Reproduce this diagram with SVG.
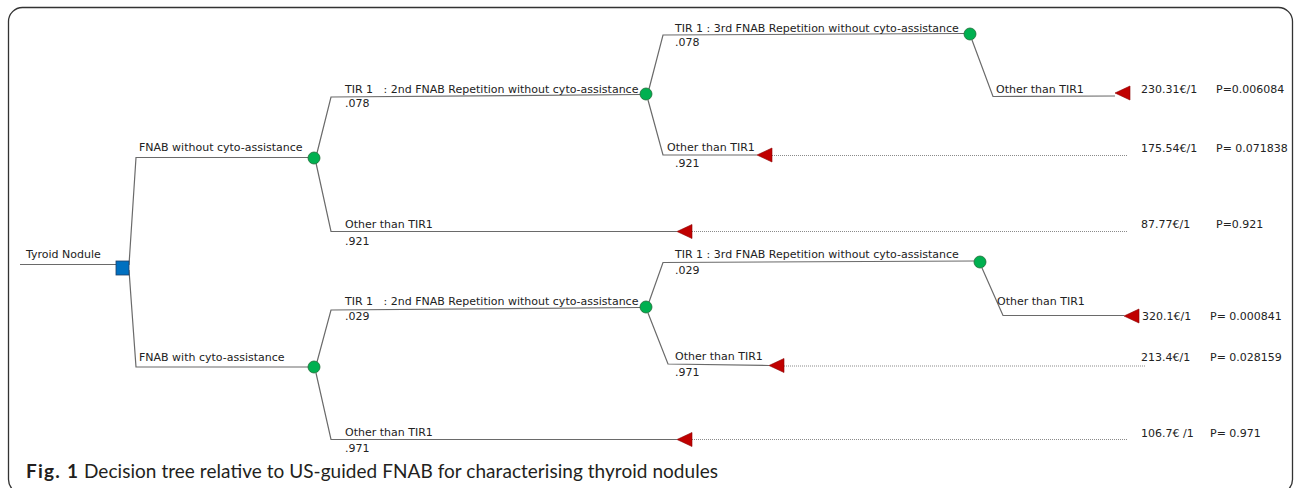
<svg xmlns="http://www.w3.org/2000/svg" width="1295" height="488" viewBox="0 0 1295 488">
<style>
  .t { font-family: "DejaVu Sans", Verdana, sans-serif; font-size: 11px; fill: #222; }
  .br { fill: none; stroke: #6a6a6a; stroke-width: 1.2; }
  .dot { fill: none; stroke: #8a8a8a; stroke-width: 1; stroke-dasharray: 1 1; }
  .chance { fill: #00B050; stroke: #1d6b35; stroke-width: 0.8; }
  .term { fill: #C00000; stroke: #8a0000; stroke-width: 0.6; }
  .dec { fill: #0070C0; stroke: #1f3f66; stroke-width: 0.8; }
  .cap { font-family: Lato, "Open Sans", sans-serif; font-size: 19px; fill: #231f20; }
</style>
<rect x="8.5" y="7.5" width="1284" height="486" rx="14" ry="14" fill="#fff" stroke="#333" stroke-width="1.3"/>

<g id="connectors">
  <path class="br" d="M20 264.5 H116"/>
  <path class="br" d="M129 265 L136 157.5 H308"/>
  <path class="br" d="M129 270 L136 367 H308"/>
  <path class="br" d="M317 153 L331 97 L640 94.5"/>
  <path class="br" d="M316 163 L331 231.5 H677"/>
  <path class="br" d="M649 89 L663 35 L964 33.5"/>
  <path class="br" d="M648 100 L663 155 H757"/>
  <path class="br" d="M972 40 L993 96.5 L1115 96"/>
  <path class="br" d="M317 362 L331 310 L640 307.5"/>
  <path class="br" d="M316 373 L331 439.5 H677"/>
  <path class="br" d="M649 302 L663 262.5 L974 261"/>
  <path class="br" d="M648 313 L668 364 L769 365.5"/>
  <path class="br" d="M982 268 L1003 315.5 H1124"/>
  <path class="dot" d="M692 231.5 H1127"/>
  <path class="dot" d="M772 155.5 H1127"/>
  <path class="dot" d="M692 439.5 H1127"/>
  <path class="dot" d="M784 366 H1145"/>
</g>

<g id="root">
  <text class="t" x="26" y="258">Tyroid Nodule</text>
  <rect class="dec" x="116" y="261" width="13" height="14"/>
</g>

<g id="branch-without">
  <text class="t" x="139" y="151">FNAB without cyto-assistance</text>
  <circle class="chance" cx="314" cy="158" r="6"/>
</g>
<g id="branch-with">
  <text class="t" x="139" y="361">FNAB with cyto-assistance</text>
  <circle class="chance" cx="314" cy="367" r="6"/>
</g>

<g id="w-tir1-2nd">
  <text class="t" x="345" y="92.5" xml:space="preserve">TIR 1   : 2nd FNAB Repetition without cyto-assistance</text>
  <text class="t" x="345" y="106.5">.078</text>
  <circle class="chance" cx="646" cy="94" r="6"/>
</g>
<g id="w-other">
  <text class="t" x="345" y="228">Other than TIR1</text>
  <text class="t" x="345" y="245">.921</text>
  <polygon class="term" points="677,231.5 692,224.5 692,238.5"/>
  <text class="t" x="1141" y="228">87.77€/1</text>
  <text class="t" x="1216" y="228">P=0.921</text>
</g>
<g id="w-tir1-3rd">
  <text class="t" x="675" y="31.5">TIR 1 : 3rd FNAB Repetition without cyto-assistance</text>
  <text class="t" x="675" y="46">.078</text>
  <circle class="chance" cx="970" cy="34" r="6"/>
</g>
<g id="w-2nd-other">
  <text class="t" x="667" y="151">Other than TIR1</text>
  <text class="t" x="675" y="166.5">.921</text>
  <polygon class="term" points="757,155 772,148 772,162"/>
  <text class="t" x="1141" y="151.5">175.54€/1</text>
  <text class="t" x="1216" y="151.5">P= 0.071838</text>
</g>
<g id="w-3rd-other">
  <text class="t" x="996" y="93">Other than TIR1</text>
  <polygon class="term" points="1115,93 1130,86 1130,100"/>
  <text class="t" x="1141" y="92.5">230.31€/1</text>
  <text class="t" x="1216" y="92.5">P=0.006084</text>
</g>

<g id="c-tir1-2nd">
  <text class="t" x="345" y="305" xml:space="preserve">TIR 1   : 2nd FNAB Repetition without cyto-assistance</text>
  <text class="t" x="345" y="320">.029</text>
  <circle class="chance" cx="646" cy="307" r="6"/>
</g>
<g id="c-other">
  <text class="t" x="345" y="435.5">Other than TIR1</text>
  <text class="t" x="345" y="452">.971</text>
  <polygon class="term" points="677,439.5 692,432.5 692,446.5"/>
  <text class="t" x="1141" y="437" xml:space="preserve">106.7€ /1</text>
  <text class="t" x="1210" y="437">P= 0.971</text>
</g>
<g id="c-tir1-3rd">
  <text class="t" x="675" y="258">TIR 1 : 3rd FNAB Repetition without cyto-assistance</text>
  <text class="t" x="675" y="274">.029</text>
  <circle class="chance" cx="980" cy="262" r="6"/>
</g>
<g id="c-2nd-other">
  <text class="t" x="675" y="360">Other than TIR1</text>
  <text class="t" x="675" y="375.5">.971</text>
  <polygon class="term" points="769,365.5 784,358.5 784,372.5"/>
  <text class="t" x="1141" y="360.5">213.4€/1</text>
  <text class="t" x="1210" y="360.5">P= 0.028159</text>
</g>
<g id="c-3rd-other">
  <text class="t" x="997" y="305">Other than TIR1</text>
  <polygon class="term" points="1124,316 1139,309 1139,323"/>
  <text class="t" x="1142" y="320">320.1€/1</text>
  <text class="t" x="1210" y="320">P= 0.000841</text>
</g>

<g id="caption">
  <text class="cap" x="26" y="478" font-weight="bold" textLength="52">Fig. 1</text>
  <text class="cap" x="84" y="478" textLength="634">Decision tree relative to US-guided FNAB for characterising thyroid nodules</text>
</g>
</svg>
